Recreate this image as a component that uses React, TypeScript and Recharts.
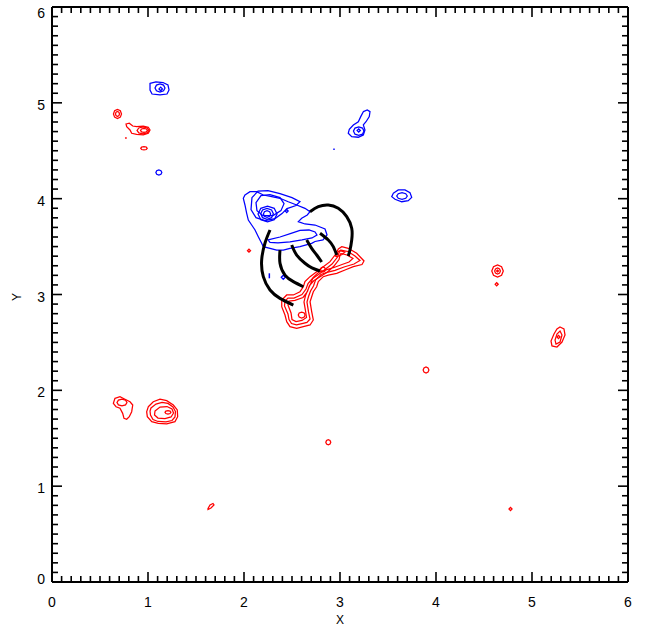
import React from 'react';
import { ScatterChart, Scatter, XAxis, YAxis } from 'recharts';

type P = [number, number];

// ---------- tick values / labels ----------
const TICK_LABELS = ['0', '1', '2', '3', '4', '5', '6'];
const ALL_TICKS: number[] = Array.from({ length: 61 }, (_, i) => i / 10);
const X_TITLE = 'X';
const Y_TITLE = 'Y';

// ---------- blue contours (closed) ----------
const BLUE_MAIN_OUTER: P[] = [[2.010,4.038],[2.0625,4.073],[2.132,4.073],[2.201,4.038],[2.289,4.021],[2.375,4.004],[2.461,3.968],[2.549,3.934],[2.635,3.899],[2.6875,3.864],[2.659,3.830],[2.601,3.795],[2.566,3.760],[2.635,3.736],[2.740,3.725],[2.844,3.684],[2.865,3.621],[2.823,3.569],[2.740,3.553],[2.705,3.534],[2.583,3.499],[2.479,3.482],[2.409,3.464],[2.341,3.464],[2.271,3.482],[2.201,3.499],[2.184,3.534],[2.149,3.603],[2.115,3.673],[2.080,3.725],[2.045,3.777],[2.028,3.847],[2.010,3.934],[1.993,4.004]];
const BLUE_MAIN_L2: P[] = [[2.083,4.011],[2.146,4.078],[2.25,4.083],[2.375,4.052],[2.5,4.011],[2.583,3.969],[2.542,3.928],[2.448,3.897],[2.396,3.844],[2.323,3.792],[2.219,3.771],[2.125,3.802],[2.073,3.886]];
const BLUE_MAIN_L3: P[] = [[2.125,3.959],[2.177,4.032],[2.271,4.042],[2.375,4.011],[2.417,3.948],[2.385,3.875],[2.302,3.823],[2.198,3.823],[2.135,3.875]];
const BLUE_PEAK_A: P[] = [[2.344,3.840],[2.315,3.899],[2.245,3.923],[2.175,3.899],[2.146,3.840],[2.175,3.781],[2.245,3.757],[2.315,3.781]];
const BLUE_PEAK_B: P[] = [[2.306,3.842],[2.287,3.882],[2.240,3.899],[2.193,3.882],[2.174,3.842],[2.193,3.802],[2.240,3.785],[2.287,3.802]];
const BLUE_PEAK_C: P[] = [[2.278,3.840],[2.267,3.864],[2.240,3.874],[2.213,3.864],[2.202,3.840],[2.213,3.816],[2.240,3.806],[2.267,3.816]];
const BLUE_DOT_MAIN: P[] = [[2.460,3.871],[2.445,3.887],[2.430,3.871],[2.445,3.855]];
const BLUE_BAND: P[] = [[2.25,3.569],[2.375,3.600],[2.490,3.637],[2.583,3.668],[2.677,3.673],[2.740,3.652],[2.760,3.621],[2.708,3.590],[2.604,3.569],[2.479,3.548],[2.354,3.538],[2.271,3.543]];
const BLUE_SMALL_RING: P[] = [[2.430,3.180],[2.409,3.201],[2.388,3.180],[2.409,3.159]];
const BLUE_TL_OUTER: P[] = [[1.021,5.202],[1.083,5.218],[1.156,5.212],[1.208,5.186],[1.219,5.134],[1.198,5.092],[1.125,5.082],[1.042,5.092],[1.021,5.134]];
const BLUE_TL_MID: P[] = [[1.177,5.155],[1.162,5.185],[1.125,5.197],[1.088,5.185],[1.073,5.155],[1.088,5.125],[1.125,5.113],[1.162,5.125]];
const BLUE_TL_IN: P[] = [[1.150,5.145],[1.132,5.164],[1.114,5.145],[1.132,5.126]];
const BLUE_SMALL_TL: P[] = [[1.144,4.273],[1.135,4.291],[1.113,4.299],[1.091,4.291],[1.082,4.273],[1.091,4.255],[1.113,4.247],[1.135,4.255]];
const BLUE_TR_OUTER: P[] = [[3.243,4.908],[3.284,4.925],[3.3125,4.908],[3.305,4.856],[3.271,4.803],[3.243,4.769],[3.260,4.717],[3.243,4.665],[3.191,4.641],[3.122,4.647],[3.086,4.682],[3.097,4.724],[3.139,4.769],[3.191,4.803],[3.216,4.856]];
const BLUE_TR_MID: P[] = [[3.250,4.705],[3.234,4.737],[3.195,4.750],[3.156,4.737],[3.140,4.705],[3.156,4.673],[3.195,4.660],[3.234,4.673]];
const BLUE_TR_IN: P[] = [[3.212,4.712],[3.195,4.729],[3.178,4.712],[3.195,4.695]];
const BLUE_R_OUTER: P[] = [[3.555,4.056],[3.607,4.091],[3.677,4.091],[3.729,4.062],[3.747,4.014],[3.711,3.979],[3.643,3.968],[3.573,3.994],[3.539,4.021]];
const BLUE_R_IN: P[] = [[3.701,4.028],[3.685,4.052],[3.646,4.062],[3.607,4.052],[3.591,4.028],[3.607,4.004],[3.646,3.994],[3.685,4.004]];

// ---------- blue open marks ----------
const BLUE_TICK_MARK: P[] = [[2.264,3.221],[2.264,3.169]];
const BLUE_SPECK: P[] = [[2.930,4.515],[2.945,4.515]];

// ---------- red contours (closed) ----------
const RED_MAIN_L1: P[] = [[3.018,3.499],[3.086,3.482],[3.174,3.430],[3.250,3.350],[3.229,3.313],[3.139,3.290],[3.052,3.256],[2.966,3.221],[2.878,3.203],[2.826,3.186],[2.774,3.134],[2.757,3.081],[2.722,3.029],[2.705,2.977],[2.688,2.925],[2.705,2.821],[2.722,2.734],[2.688,2.682],[2.618,2.664],[2.549,2.647],[2.479,2.664],[2.445,2.716],[2.427,2.786],[2.393,2.873],[2.393,2.943],[2.445,2.995],[2.514,2.995],[2.583,3.029],[2.618,3.081],[2.635,3.134],[2.688,3.186],[2.757,3.238],[2.826,3.290],[2.896,3.343],[2.948,3.412],[2.983,3.475]];
const RED_MAIN_L2: P[] = [[3.010,3.464],[3.083,3.449],[3.156,3.402],[3.208,3.355],[3.146,3.318],[3.042,3.287],[2.948,3.251],[2.865,3.230],[2.802,3.209],[2.745,3.151],[2.724,3.089],[2.693,3.037],[2.672,2.979],[2.656,2.922],[2.672,2.818],[2.688,2.744],[2.656,2.708],[2.604,2.697],[2.547,2.682],[2.495,2.697],[2.469,2.739],[2.458,2.797],[2.422,2.880],[2.427,2.932],[2.458,2.963],[2.521,2.963],[2.604,3.000],[2.646,3.057],[2.667,3.115],[2.708,3.162],[2.776,3.209],[2.844,3.261],[2.917,3.318],[2.974,3.391],[2.995,3.449]];
const RED_MAIN_L3: P[] = [[3.010,3.428],[3.073,3.412],[3.135,3.376],[3.094,3.339],[3.021,3.313],[2.9375,3.282],[2.854,3.256],[2.781,3.235],[2.719,3.177],[2.693,3.110],[2.667,3.052],[2.641,2.990],[2.625,2.922],[2.641,2.828],[2.651,2.760],[2.604,2.729],[2.542,2.718],[2.5,2.739],[2.490,2.807],[2.458,2.891],[2.469,2.932],[2.531,2.938],[2.615,2.969],[2.661,3.031],[2.682,3.094],[2.729,3.146],[2.797,3.188],[2.870,3.235],[2.9375,3.297],[2.990,3.365],[3.0,3.412]];
const RED_HOOK: P[] = [[3.0,3.458],[3.052,3.443],[3.021,3.417],[2.969,3.396],[2.953,3.401],[2.974,3.427],[2.979,3.448]];
const RED_MID_RING: P[] = [[2.849,3.261],[2.841,3.279],[2.823,3.287],[2.805,3.279],[2.797,3.261],[2.805,3.243],[2.823,3.235],[2.841,3.243]];
const RED_LOW_RING: P[] = [[2.637,2.786],[2.627,2.808],[2.601,2.817],[2.575,2.808],[2.565,2.786],[2.575,2.764],[2.601,2.755],[2.627,2.764]];
const RED_NEAR_DOT: P[] = [[2.068,3.457],[2.052,3.473],[2.036,3.457],[2.052,3.441]];
const RED_TL_OUTER: P[] = [[0.724,4.884],[0.712,4.917],[0.682,4.931],[0.652,4.917],[0.640,4.884],[0.652,4.851],[0.682,4.837],[0.712,4.851]];
const RED_TL_IN: P[] = [[0.703,4.884],[0.697,4.902],[0.682,4.910],[0.667,4.902],[0.661,4.884],[0.667,4.866],[0.682,4.858],[0.697,4.866]];
const RED_TAIL_OUTER: P[] = [[0.771,4.779],[0.805,4.787],[0.841,4.758],[0.882,4.751],[0.951,4.758],[1.003,4.745],[1.021,4.717],[1.003,4.682],[0.951,4.665],[0.882,4.672],[0.830,4.682],[0.8125,4.717],[0.778,4.751]];
const RED_TAIL_MID: P[] = [[1.011,4.712],[0.992,4.738],[0.948,4.749],[0.904,4.738],[0.886,4.712],[0.904,4.686],[0.948,4.676],[0.992,4.686]];
const RED_TAIL_IN: P[] = [[0.994,4.712],[0.983,4.727],[0.958,4.733],[0.933,4.727],[0.922,4.712],[0.933,4.697],[0.958,4.691],[0.983,4.697]];
const RED_SMALL_TL: P[] = [[0.992,4.526],[0.982,4.539],[0.958,4.544],[0.934,4.539],[0.924,4.526],[0.934,4.513],[0.958,4.508],[0.982,4.513]];
const RED_R_OUTER: P[] = [[4.701,3.245],[4.683,3.290],[4.641,3.309],[4.599,3.290],[4.581,3.245],[4.599,3.200],[4.641,3.181],[4.683,3.200]];
const RED_R_MID: P[] = [[4.671,3.245],[4.662,3.267],[4.641,3.276],[4.620,3.267],[4.611,3.245],[4.620,3.223],[4.641,3.214],[4.662,3.223]];
const RED_R_IN: P[] = [[4.651,3.245],[4.641,3.255],[4.631,3.245],[4.641,3.235]];
const RED_R_DOT: P[] = [[4.648,3.107],[4.632,3.124],[4.616,3.107],[4.632,3.090]];
const RED_FR_OUTER: P[] = [[5.292,2.661],[5.333,2.640],[5.344,2.577],[5.3125,2.504],[5.260,2.452],[5.208,2.463],[5.198,2.515],[5.229,2.588],[5.260,2.640]];
const RED_FR_MID: P[] = [[5.292,2.619],[5.3125,2.577],[5.292,2.504],[5.25,2.483],[5.24,2.525],[5.26,2.588]];
const RED_FR_IN: P[] = [[5.292,2.557],[5.276,2.574],[5.260,2.557],[5.276,2.540]];
const RED_MR_RING: P[] = [[3.926,2.212],[3.917,2.234],[3.896,2.243],[3.875,2.234],[3.866,2.212],[3.875,2.190],[3.896,2.181],[3.917,2.190]];
const RED_BL_OUTER: P[] = [[0.656,1.917],[0.708,1.934],[0.760,1.907],[0.8125,1.881],[0.841,1.847],[0.830,1.777],[0.805,1.725],[0.778,1.698],[0.75,1.708],[0.736,1.760],[0.708,1.813],[0.667,1.829],[0.639,1.865]];
const RED_BL_IN: P[] = [[0.781,1.873],[0.766,1.898],[0.729,1.908],[0.692,1.898],[0.677,1.873],[0.692,1.848],[0.729,1.838],[0.766,1.848]];
const RED_B2_L1: P[] = [[1.003,1.829],[1.055,1.881],[1.125,1.907],[1.195,1.892],[1.264,1.847],[1.305,1.795],[1.309,1.725],[1.281,1.673],[1.195,1.649],[1.107,1.656],[1.039,1.673],[0.993,1.725],[0.986,1.777]];
const RED_B2_L2: P[] = [[1.031,1.816],[1.083,1.857],[1.146,1.873],[1.208,1.863],[1.260,1.826],[1.286,1.779],[1.281,1.722],[1.25,1.685],[1.1875,1.670],[1.104,1.675],[1.052,1.696],[1.026,1.743],[1.021,1.784]];
const RED_B2_L3: P[] = [[1.073,1.784],[1.125,1.826],[1.198,1.831],[1.25,1.805],[1.266,1.763],[1.240,1.722],[1.177,1.706],[1.104,1.711],[1.068,1.743]];
const RED_B2_L4: P[] = [[1.239,1.771],[1.230,1.784],[1.208,1.789],[1.186,1.784],[1.177,1.771],[1.186,1.758],[1.208,1.753],[1.230,1.758]];
const RED_MID_LOW: P[] = [[2.904,1.458],[2.896,1.477],[2.878,1.485],[2.860,1.477],[2.852,1.458],[2.860,1.439],[2.878,1.431],[2.896,1.439]];
const RED_LEAF: P[] = [[1.625,0.767],[1.646,0.804],[1.677,0.819],[1.6875,0.804],[1.656,0.772],[1.625,0.757]];
const RED_BR_DOT: P[] = [[4.792,0.762],[4.776,0.779],[4.760,0.762],[4.776,0.745]];

// ---------- red open marks ----------
const RED_SPECK: P[] = [[0.762,4.630],[0.778,4.636]];

// ---------- black arcs (open) ----------
const ARC_A: P[] = [[2.271,3.673],[2.219,3.538],[2.184,3.360],[2.201,3.186],[2.271,3.047],[2.375,2.960],[2.514,2.890]];
const ARC_B: P[] = [[2.375,3.464],[2.375,3.326],[2.427,3.203],[2.514,3.134],[2.618,3.081]];
const ARC_C: P[] = [[2.497,3.517],[2.549,3.412],[2.635,3.326],[2.708,3.277],[2.792,3.245]];
const ARC_D: P[] = [[2.653,3.569],[2.705,3.482],[2.757,3.412],[2.809,3.339]];
const ARC_E: P[] = [[2.792,3.639],[2.878,3.569],[2.930,3.499],[2.966,3.412]];
const ARC_F: P[] = [[2.6875,3.864],[2.774,3.916],[2.878,3.934],[2.982,3.899],[3.070,3.812],[3.122,3.691],[3.122,3.569],[3.104,3.464],[3.086,3.402]];

const BLUE_CLOSED: P[][] = [BLUE_MAIN_OUTER, BLUE_MAIN_L2, BLUE_MAIN_L3, BLUE_PEAK_A, BLUE_PEAK_B, BLUE_PEAK_C, BLUE_DOT_MAIN, BLUE_BAND, BLUE_SMALL_RING, BLUE_TL_OUTER, BLUE_TL_MID, BLUE_TL_IN, BLUE_SMALL_TL, BLUE_TR_OUTER, BLUE_TR_MID, BLUE_TR_IN, BLUE_R_OUTER, BLUE_R_IN];
const BLUE_OPEN: P[][] = [BLUE_TICK_MARK, BLUE_SPECK];
const RED_CLOSED: P[][] = [RED_MAIN_L1, RED_MAIN_L2, RED_MAIN_L3, RED_HOOK, RED_MID_RING, RED_LOW_RING, RED_NEAR_DOT, RED_TL_OUTER, RED_TL_IN, RED_TAIL_OUTER, RED_TAIL_MID, RED_TAIL_IN, RED_SMALL_TL, RED_R_OUTER, RED_R_MID, RED_R_IN, RED_R_DOT, RED_FR_OUTER, RED_FR_MID, RED_FR_IN, RED_MR_RING, RED_BL_OUTER, RED_BL_IN, RED_B2_L1, RED_B2_L2, RED_B2_L3, RED_B2_L4, RED_MID_LOW, RED_LEAF, RED_BR_DOT];
const RED_OPEN: P[][] = [RED_SPECK];
const ARCS: P[][] = [ARC_A, ARC_B, ARC_C, ARC_D, ARC_E, ARC_F];

const FONT = "'Liberation Sans', Arial, Helvetica, sans-serif";
const BLUE = '#0000ff';
const RED = '#ff0000';
const CW = 1.25;

const toPts = (c: P[]) => c.map(([x, y]) => ({ x, y }));
const NoShape = () => null;
const isMajor = (v: number) => Math.abs(v - Math.round(v)) < 1e-6;
const MAJ = 10;
const MIN = 6;
const TW = 1.6;

const BottomTick = (props: any) => {
  const { x, y, payload } = props;
  const v = payload.value;
  const m = isMajor(v);
  return (
    <g>
      <line x1={x} x2={x} y1={y} y2={y - (m ? MAJ : MIN)} stroke="#000" strokeWidth={TW} />
      {m && (
        <text x={x} y={y + 25} textAnchor="middle" fontSize={14} fontFamily={FONT} fill="#000">
          {TICK_LABELS[Math.round(v)]}
        </text>
      )}
    </g>
  );
};
const TopTick = (props: any) => {
  const { x, y, payload } = props;
  const m = isMajor(payload.value);
  return <line x1={x} x2={x} y1={y} y2={y + (m ? MAJ : MIN)} stroke="#000" strokeWidth={TW} />;
};
const LeftTick = (props: any) => {
  const { x, y, payload } = props;
  const v = payload.value;
  const m = isMajor(v);
  const r = Math.round(v);
  const c = r === 6 ? 6 : r === 0 ? -3 : 2;
  return (
    <g>
      <line x1={x} x2={x + (m ? MAJ : MIN)} y1={y} y2={y} stroke="#000" strokeWidth={TW} />
      {m && (
        <text x={x - 7} y={y + c + 5} textAnchor="end" fontSize={14} fontFamily={FONT} fill="#000">
          {TICK_LABELS[r]}
        </text>
      )}
    </g>
  );
};
const RightTick = (props: any) => {
  const { x, y, payload } = props;
  const m = isMajor(payload.value);
  return <line x1={x} x2={x - (m ? MAJ : MIN)} y1={y} y2={y} stroke="#000" strokeWidth={TW} />;
};

const XTitle = () => (
  <text x={340} y={624} textAnchor="middle" fontSize={12} fontFamily={FONT} fill="#000">{X_TITLE}</text>
);
const YTitle = () => (
  <text x={21} y={297} textAnchor="middle" fontSize={12} fontFamily={FONT} fill="#000" transform="rotate(-90 21 297)">{Y_TITLE}</text>
);

const axisLine = { stroke: '#000', strokeWidth: 2 };

export default function App() {
  return (
    <div style={{ position: 'absolute', left: 0, top: 0, width: 646, height: 626, background: '#fff' }}>
      <ScatterChart width={646} height={626} margin={{ top: 6, right: 17, bottom: 43, left: 51 }}>
        <XAxis xAxisId={0} type="number" dataKey="x" domain={[0, 6]} ticks={ALL_TICKS} interval={0} height={1}
          tickSize={0} tickMargin={0} tickLine={false} axisLine={axisLine} tick={BottomTick} allowDataOverflow
          label={{ content: XTitle }} />
        <XAxis xAxisId="top" orientation="top" type="number" dataKey="x" domain={[0, 6]} ticks={ALL_TICKS} interval={0} height={1}
          tickSize={0} tickMargin={0} tickLine={false} axisLine={axisLine} tick={TopTick} allowDataOverflow />
        <YAxis yAxisId={0} type="number" dataKey="y" domain={[0, 6]} ticks={ALL_TICKS} interval={0} width={1}
          tickSize={0} tickMargin={0} tickLine={false} axisLine={axisLine} tick={LeftTick} allowDataOverflow
          label={{ content: YTitle }} />
        <YAxis yAxisId="right" orientation="right" type="number" dataKey="y" domain={[0, 6]} ticks={ALL_TICKS} interval={0} width={1}
          tickSize={0} tickMargin={0} tickLine={false} axisLine={axisLine} tick={RightTick} allowDataOverflow />
        {BLUE_CLOSED.map((c, i) => (
          <Scatter key={'bc' + i} data={toPts(c)} xAxisId={0} yAxisId={0} shape={NoShape} fill={BLUE}
            line={{ stroke: BLUE, strokeWidth: CW }} lineJointType="linearClosed" isAnimationActive={false} />
        ))}
        {BLUE_OPEN.map((c, i) => (
          <Scatter key={'bo' + i} data={toPts(c)} xAxisId={0} yAxisId={0} shape={NoShape} fill={BLUE}
            line={{ stroke: BLUE, strokeWidth: 1.5 }} lineJointType="linear" isAnimationActive={false} />
        ))}
        {RED_CLOSED.map((c, i) => (
          <Scatter key={'rc' + i} data={toPts(c)} xAxisId={0} yAxisId={0} shape={NoShape} fill={RED}
            line={{ stroke: RED, strokeWidth: CW }} lineJointType="linearClosed" isAnimationActive={false} />
        ))}
        {RED_OPEN.map((c, i) => (
          <Scatter key={'ro' + i} data={toPts(c)} xAxisId={0} yAxisId={0} shape={NoShape} fill={RED}
            line={{ stroke: RED, strokeWidth: 1.5 }} lineJointType="linear" isAnimationActive={false} />
        ))}
        {ARCS.map((c, i) => (
          <Scatter key={'a' + i} data={toPts(c)} xAxisId={0} yAxisId={0} shape={NoShape} fill="#000"
            line={{ stroke: '#000', strokeWidth: 3, strokeLinecap: 'butt' }} lineJointType="natural" isAnimationActive={false} />
        ))}
      </ScatterChart>
    </div>
  );
}
